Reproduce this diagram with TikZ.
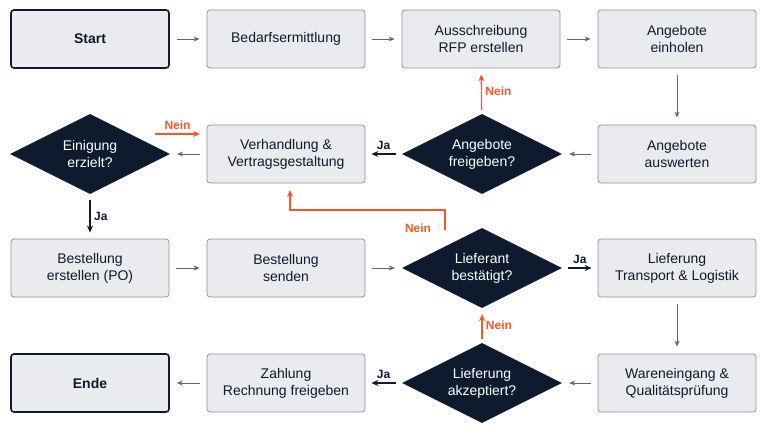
\documentclass[tikz,border=0pt]{standalone}
\usepackage{fontspec}
\setmainfont{Liberation Sans}
\usetikzlibrary{shapes.geometric,arrows.meta}
\definecolor{boxfill}{HTML}{E9EBEE}
\definecolor{boxline}{HTML}{8C929C}
\definecolor{navy}{HTML}{0E1A2E}
\definecolor{nein}{HTML}{F05A28}
\definecolor{arr}{HTML}{5F6670}
\begin{document}
\begin{tikzpicture}[x=1pt,y=-1pt,
  box/.style={draw=boxline,fill=boxfill,rounded corners=3pt,minimum width=158pt,minimum height=58pt,align=center,font=\fontsize{14}{17}\selectfont,text=navy,line width=0.8pt},
  term/.style={box,draw=navy,line width=1.6pt,font=\fontsize{14}{17}\selectfont\bfseries},
  dec/.style={diamond,aspect=2,fill=navy,text=white,minimum width=160pt,minimum height=80pt,inner sep=0pt,align=center,font=\fontsize{14}{17}\selectfont},
  ga/.style={-{Stealth[length=6pt,width=5pt]},arr,line width=0.8pt,shorten <=7pt,shorten >=7pt},
  ja/.style={-{Stealth[length=7pt,width=6pt]},navy,line width=1.6pt,shorten <=6pt,shorten >=6pt},
  no/.style={-{Stealth[length=7pt,width=6pt]},nein,line width=1.3pt},
  lab/.style={font=\fontsize{12}{14}\selectfont\bfseries}]
\useasboundingbox (0,0) rectangle (768,433);
\node[term] (start) at (90,39) {Start};
\node[box] (bed) at (286,39) {Bedarfsermittlung};
\node[box] (aus) at (481,39) {Ausschreibung\\RFP erstellen};
\node[box] (ein) at (677,39) {Angebote\\einholen};
\node[dec] (eini) at (90,154) {Einigung\\erzielt?};
\node[box] (ver) at (286,154) {Verhandlung \&\\Vertragsgestaltung};
\node[dec] (frei) at (482,154) {Angebote\\freigeben?};
\node[box] (ausw) at (677,154) {Angebote\\auswerten};
\node[box] (best) at (90,268) {Bestellung\\erstellen (PO)};
\node[box] (send) at (286,268) {Bestellung\\senden};
\node[dec] (lief) at (482,268) {Lieferant\\bestätigt?};
\node[box] (lfg) at (677,268) {Lieferung\\Transport \& Logistik};
\node[term] (ende) at (90,383) {Ende};
\node[box] (zahl) at (286,383) {Zahlung\\Rechnung freigeben};
\node[dec] (akz) at (482,383) {Lieferung\\akzeptiert?};
\node[box] (ware) at (677,383) {Wareneingang \&\\Qualitätsprüfung};
\draw[ga] (start) -- (bed);
\draw[ga] (bed) -- (aus);
\draw[ga] (aus) -- (ein);
\draw[ga] (ein) -- (ausw);
\draw[ga] (ausw) -- (frei);
\draw[ga] (ver) -- (eini);
\draw[ga] (best) -- (send);
\draw[ga] (send) -- (lief);
\draw[ga] (lfg) -- (ware);
\draw[ga] (ware) -- (akz);
\draw[ga] (zahl) -- (ende);
\draw[ja] (frei) -- node[lab,above,text=navy]{Ja} (ver);
\draw[ja] (eini) -- node[lab,right,text=navy]{Ja} (best);
\draw[ja] (lief) -- node[lab,above,text=navy]{Ja} (lfg);
\draw[ja] (akz) -- node[lab,above,text=navy]{Ja} (zahl);
\draw[no,shorten <=4pt,shorten >=6pt] (frei) -- node[lab,right,text=nein]{Nein} (aus);
\draw[no,shorten <=4pt,shorten >=6pt] (akz) -- node[lab,right,text=nein]{Nein} (lief);
\coordinate (e1) at (155,134);
\coordinate (v1) at (200,134);
\draw[no] (e1) -- node[lab,above,text=nein]{Nein} (v1);
\coordinate (l1) at (445,230);
\coordinate (v2) at (290,190);
\draw[no] (l1) -- (445,210) -- (290,210) -- (v2);
\node[lab,text=nein] (nl) at (418,228) {Nein};
\end{tikzpicture}
\end{document}
